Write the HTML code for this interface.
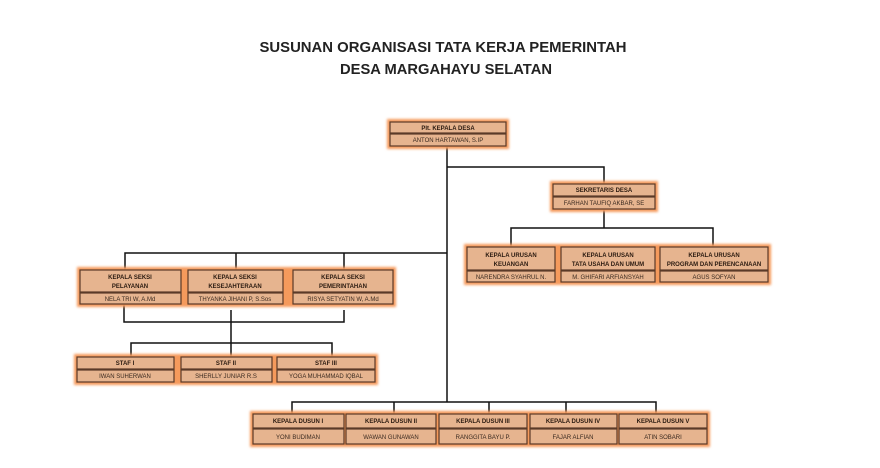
<!DOCTYPE html>
<html><head><meta charset="utf-8"><style>
html,body{margin:0;padding:0;background:#fff;}
svg{display:block;font-family:"Liberation Sans",sans-serif;}
.h{font-size:6px;font-weight:bold;fill:#2a1a10;}
.n{font-size:6px;fill:#3a2a20;}
.t{font-size:15px;font-weight:bold;fill:#222;}
</style></head><body>
<svg width="880" height="468" viewBox="0 0 880 468" xmlns="http://www.w3.org/2000/svg">
<defs>
<filter id="g" x="-20%" y="-40%" width="140%" height="180%">
<feGaussianBlur stdDeviation="1.4"/>
</filter>
</defs>
<text class="t" x="443" y="52" text-anchor="middle" textLength="367" lengthAdjust="spacingAndGlyphs">SUSUNAN ORGANISASI TATA KERJA PEMERINTAH</text>
<text class="t" x="446" y="74" text-anchor="middle" textLength="212" lengthAdjust="spacingAndGlyphs">DESA MARGAHAYU SELATAN</text>

<g stroke="#111" stroke-width="1.5" fill="none">
<path d="M447 146V402"/>
<path d="M447 167H604V184"/>
<path d="M604 209V228M511 247V228H713V247"/>
<path d="M447 253H125V270M236 253V270M344 253V270"/>
<path d="M124 303V322H344V310M231 310V357M131 357V343H332V357"/>
<path d="M292 414V402H656V414M394 402V414M489 402V414M566 402V414"/>
</g>

<g stroke="#5a3a28" stroke-width="1.2">
<rect x="387" y="119" width="122" height="30" fill="#f59a5c" stroke="none" filter="url(#g)"/>
<rect x="390" y="122" width="116" height="11" fill="#e6b48f"/><rect x="390" y="134" width="116" height="12" fill="#e6b48f"/>
<rect x="550" y="181" width="108" height="31" fill="#f59a5c" stroke="none" filter="url(#g)"/>
<rect x="553" y="184" width="102" height="12" fill="#e6b48f"/><rect x="553" y="197" width="102" height="12" fill="#e6b48f"/>
<rect x="464" y="244" width="307" height="41" fill="#f59a5c" stroke="none" filter="url(#g)"/>
<rect x="467" y="247" width="88" height="23" fill="#e6b48f"/><rect x="467" y="271" width="88" height="11" fill="#e6b48f"/>
<rect x="561" y="247" width="94" height="23" fill="#e6b48f"/><rect x="561" y="271" width="94" height="11" fill="#e6b48f"/>
<rect x="660" y="247" width="108" height="23" fill="#e6b48f"/><rect x="660" y="271" width="108" height="11" fill="#e6b48f"/>
<rect x="77" y="267" width="319" height="40" fill="#f59a5c" stroke="none" filter="url(#g)"/>
<rect x="80" y="270" width="101" height="22" fill="#e6b48f"/><rect x="80" y="293" width="101" height="11" fill="#e6b48f"/>
<rect x="188" y="270" width="95" height="22" fill="#e6b48f"/><rect x="188" y="293" width="95" height="11" fill="#e6b48f"/>
<rect x="293" y="270" width="100" height="22" fill="#e6b48f"/><rect x="293" y="293" width="100" height="11" fill="#e6b48f"/>
<rect x="74" y="354" width="304" height="31" fill="#f59a5c" stroke="none" filter="url(#g)"/>
<rect x="77" y="357" width="97" height="12" fill="#e6b48f"/><rect x="77" y="370" width="97" height="12" fill="#e6b48f"/>
<rect x="181" y="357" width="91" height="12" fill="#e6b48f"/><rect x="181" y="370" width="91" height="12" fill="#e6b48f"/>
<rect x="277" y="357" width="98" height="12" fill="#e6b48f"/><rect x="277" y="370" width="98" height="12" fill="#e6b48f"/>
<rect x="250" y="411" width="460" height="36" fill="#f59a5c" stroke="none" filter="url(#g)"/>
<rect x="253" y="414" width="91" height="14" fill="#e6b48f"/><rect x="253" y="429" width="91" height="15" fill="#e6b48f"/>
<rect x="346" y="414" width="90" height="14" fill="#e6b48f"/><rect x="346" y="429" width="90" height="15" fill="#e6b48f"/>
<rect x="439" y="414" width="88" height="14" fill="#e6b48f"/><rect x="439" y="429" width="88" height="15" fill="#e6b48f"/>
<rect x="530" y="414" width="87" height="14" fill="#e6b48f"/><rect x="530" y="429" width="87" height="15" fill="#e6b48f"/>
<rect x="619" y="414" width="88" height="14" fill="#e6b48f"/><rect x="619" y="429" width="88" height="15" fill="#e6b48f"/>
</g>

<g text-anchor="middle">
<text class="h" x="448" y="130">Plt. KEPALA DESA</text>
<text class="n" x="448" y="142">ANTON HARTAWAN, S.IP</text>
<text class="h" x="604" y="192">SEKRETARIS DESA</text>
<text class="n" x="604" y="205">FARHAN TAUFIQ AKBAR, SE</text>

<text class="h" x="511" y="257">KEPALA URUSAN</text><text class="h" x="511" y="266">KEUANGAN</text>
<text class="n" x="511" y="279">NARENDRA SYAHRUL N.</text>
<text class="h" x="608" y="257">KEPALA URUSAN</text><text class="h" x="608" y="266">TATA USAHA DAN UMUM</text>
<text class="n" x="608" y="279">M. GHIFARI ARFIANSYAH</text>
<text class="h" x="714" y="257">KEPALA URUSAN</text><text class="h" x="714" y="266">PROGRAM DAN PERENCANAAN</text>
<text class="n" x="714" y="279">AGUS SOFYAN</text>

<text class="h" x="130" y="279">KEPALA SEKSI</text><text class="h" x="130" y="288">PELAYANAN</text>
<text class="n" x="130" y="301">NELA TRI W, A.Md</text>
<text class="h" x="235" y="279">KEPALA SEKSI</text><text class="h" x="235" y="288">KESEJAHTERAAN</text>
<text class="n" x="235" y="301">THYANKA JIHANI P, S.Sos</text>
<text class="h" x="343" y="279">KEPALA SEKSI</text><text class="h" x="343" y="288">PEMERINTAHAN</text>
<text class="n" x="343" y="301">RISYA SETYATIN W, A.Md</text>

<text class="h" x="125" y="365">STAF I</text><text class="n" x="125" y="378">IWAN SUHERWAN</text>
<text class="h" x="226" y="365">STAF II</text><text class="n" x="226" y="378">SHERLLY JUNIAR R.S</text>
<text class="h" x="326" y="365">STAF III</text><text class="n" x="326" y="378">YOGA MUHAMMAD IQBAL</text>

<text class="h" x="298" y="423">KEPALA DUSUN I</text><text class="n" x="298" y="439">YONI BUDIMAN</text>
<text class="h" x="391" y="423">KEPALA DUSUN II</text><text class="n" x="391" y="439">WAWAN GUNAWAN</text>
<text class="h" x="483" y="423">KEPALA DUSUN III</text><text class="n" x="483" y="439">RANGGITA BAYU P.</text>
<text class="h" x="573" y="423">KEPALA DUSUN IV</text><text class="n" x="573" y="439">FAJAR ALFIAN</text>
<text class="h" x="663" y="423">KEPALA DUSUN V</text><text class="n" x="663" y="439">ATIN SOBARI</text>
</g>
</svg>
</body></html>
